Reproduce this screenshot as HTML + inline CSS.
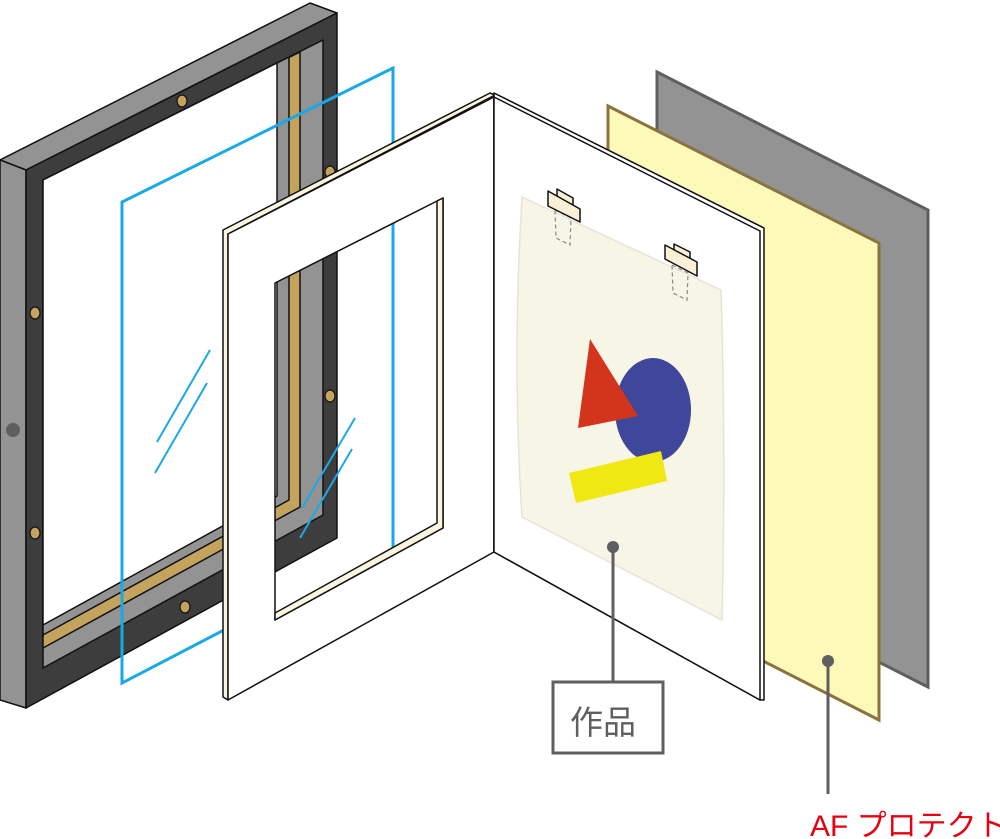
<!DOCTYPE html>
<html><head><meta charset="utf-8"><style>
html,body{margin:0;padding:0;background:#fff;}
svg{display:block;}
</style></head><body>
<svg width="1000" height="839" viewBox="0 0 1000 839" xmlns="http://www.w3.org/2000/svg">
<g stroke="#111" stroke-width="1.5" stroke-linejoin="round">
  <!-- frame -->
  <polygon points="0,160 310,3 337,13 26,170" fill="#939393"/>
  <polygon points="0,160 26,170 26,708 0,700" fill="#939393"/>
  <polygon points="26,170 337,13 337,538 26,708" fill="#3c3d3c"/>
  <polygon points="43,180 323,40 323,515 43,668" fill="#939393"/>
  <polygon points="43,180 300,52 300,507 43,648" fill="#c3a35e"/>
  <polygon points="43,180 289,57 289,500 43,635" fill="#939393"/>
  <polygon points="43,180 277,63 277,496 43,625" fill="#fff"/>
</g>
<g fill="#c3a35e" stroke="#111" stroke-width="1.2">
  <ellipse cx="182" cy="101" rx="5" ry="6"/>
  <ellipse cx="330" cy="172" rx="5" ry="6"/>
  <ellipse cx="35" cy="313" rx="5" ry="6"/>
  <ellipse cx="35" cy="533" rx="5" ry="6"/>
  <ellipse cx="185" cy="607" rx="5" ry="6"/>
  <ellipse cx="330" cy="396" rx="5" ry="6"/>
</g>
<ellipse cx="13" cy="430" rx="7" ry="7" fill="#5f5e60"/>
<!-- glass -->
<g stroke="#1aa9e6" stroke-width="3" fill="none">
  <polyline points="224,630 122,683 122,202 393,68 393,553"/>
  <line x1="210" y1="350" x2="157" y2="442" stroke-width="2"/>
  <line x1="207" y1="383" x2="155" y2="473" stroke-width="2"/>
  <line x1="355" y1="418" x2="302" y2="508" stroke-width="2"/>
  <line x1="352" y1="449" x2="300" y2="538" stroke-width="2"/>
</g>
<!-- backboard gray -->
<polygon points="657,72 928,210 928,687 657,549" fill="#939393" stroke="#5f5f5f" stroke-width="3"/>
<!-- AF protect yellow -->
<polygon points="608,106 879,243 879,720 608,582" fill="#fdf9b9" stroke="#8a7340" stroke-width="3"/>
<!-- mat left page with hole -->
<g stroke="#111" stroke-width="1.5" stroke-linejoin="round">
  <polygon points="223,230 490,93 495,95 228,234 228,700 223,697" fill="#faf5df"/>
  <path d="M228,234 L494,97 L494,552 L228,700 Z M275,283 L443,198 L443,528 L275,620 Z" fill="#fff" fill-rule="evenodd"/>
  <polygon points="437,201 443,198 443,528 275,620 275,613 437,523" fill="#faf5df"/>
  <!-- right page -->
  <polygon points="494,93 764,228 764,700 760,700 494,552" fill="#fff"/>
  <polygon points="494,97 760,231 760,700 494,552" fill="#fff"/>
</g>
<!-- artwork paper -->
<path d="M522,197 L721,290 Q726,450 722,620 L522,517 Q512,360 522,197 Z" fill="#f7f5e6" stroke="#e6e4d8" stroke-width="1.5"/>
<ellipse cx="653" cy="410" rx="38" ry="52" fill="#3f479a"/>
<polygon points="590,339 638,416 578,428" fill="#d3341c"/>
<polygon points="569,473 661,451 667,481 576,503" fill="#f0e813"/>
<!-- tapes -->
<g stroke="#888" stroke-width="1.2" stroke-dasharray="4,3" fill="none">
  <polygon points="555,210 571,218 570,245 556,238"/>
  <polygon points="672,265 688,273 687,300 673,293"/>
</g>
<g fill="#faf0d6" stroke="#111" stroke-width="1.5" stroke-linejoin="round">
  <polygon points="557,189 573,198 573,205 557,197"/>
  <polygon points="548,191 580,209 580,222 548,206"/>
  <polygon points="674,244 690,252 690,259 674,251"/>
  <polygon points="665,245 697,262 697,276 665,259"/>
</g>
<!-- callouts -->
<g stroke="#5f5e60" stroke-width="3" fill="none">
  <line x1="613" y1="547" x2="613" y2="681"/>
  <rect x="553" y="682" width="110" height="71" fill="#fff"/>
  <line x1="828" y1="661" x2="828" y2="794"/>
</g>
<circle cx="613" cy="547" r="6" fill="#5f5e60"/>
<circle cx="828" cy="661" r="6" fill="#5f5e60"/>
<text x="570" y="734" font-family="'Liberation Sans','Noto Sans CJK JP',sans-serif" font-size="33" fill="#5f5e60">作品</text>
<text x="810" y="836" font-family="'Liberation Sans','Noto Sans CJK JP',sans-serif" font-size="30" fill="#e60012">AF プロテクト</text>
</svg>
</body></html>
